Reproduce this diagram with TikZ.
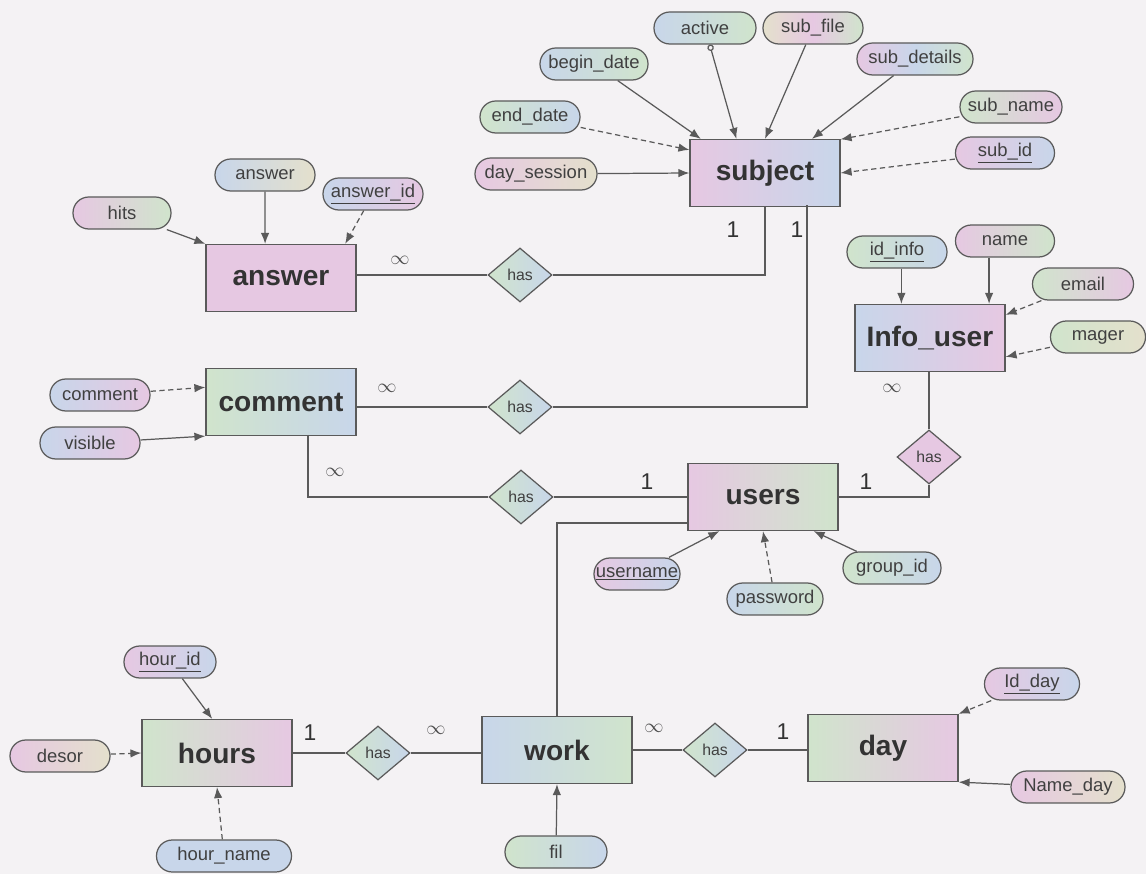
\documentclass[tikz,border=0pt]{standalone}
\usepackage{fontspec}
\setmainfont{Liberation Sans}
\usepackage{xcolor}
\usetikzlibrary{arrows.meta,shapes.geometric}

\definecolor{paper}{HTML}{F4F2F4}
\definecolor{ln}{HTML}{5A5A5A}
\definecolor{pk}{HTML}{E6C8E2}
\definecolor{gn}{HTML}{D0E4CC}
\definecolor{bl}{HTML}{C8D6EA}
\definecolor{yl}{HTML}{E4E0CC}

\begin{document}
\begin{tikzpicture}[x=0.02cm,y=-0.02cm,
    ent/.style={draw=ln,line width=0.7pt,minimum width=3cm,minimum height=1.34cm,left color=pk,middle color=gn,right color=bl,font=\fontsize{16}{18}\selectfont\bfseries,text=black!80},
    attr/.style={draw=ln,line width=0.7pt,rounded corners=9pt,minimum width=0.02cm*#1,minimum height=0.64cm,inner sep=1pt,left color=bl,middle color=pk,right color=gn,font=\fontsize{10.5}{12}\selectfont,text=black!75},
    rel/.style={diamond,draw=ln,line width=0.7pt,minimum width=1.28cm,minimum height=1.08cm,inner sep=0pt,left color=gn,middle color=pk,right color=bl,font=\fontsize{9}{10}\selectfont,text=black!75},
    card/.style={font=\fontsize{13}{14}\selectfont,text=black!80},
    many/.style={font=\fontsize{11}{12}\selectfont,text=black!70},
    con/.style={draw=ln,line width=0.7pt},
    arr/.style={con,-{Latex[length=2.2mm,width=1.7mm]}},
    dsh/.style={dash pattern=on 3pt off 2pt}
]
    \fill[paper] (0,0) rectangle (1146,874);
    \useasboundingbox (0,0) rectangle (1146,874);

    % entities
    \node[ent] (subject) at (765,173) {subject};
    \node[ent,left color=pk,middle color=bl,right color=pk] (answer) at (281,278) {answer};
    \node[ent,left color=gn,middle color=yl,right color=bl] (comment) at (281,402) {comment};
    \node[ent,left color=bl,middle color=gn,right color=pk] (info) at (930,338) {Info\_user};
    \node[ent,left color=pk,middle color=bl,right color=gn] (users) at (763,497) {users};
    \node[ent,left color=gn,middle color=bl,right color=pk] (hours) at (217,753) {hours};
    \node[ent,left color=bl,middle color=pk,right color=gn] (work) at (557,750) {work};
    \node[ent,left color=gn,middle color=yl,right color=pk] (day) at (883,748) {day};

    % relations
    \node[rel] (has1) at (520,275) {has};
    \node[rel] (has2) at (520,407) {has};
    \node[rel] (has3) at (521,497) {has};
    \node[rel,left color=pk,right color=pk] (has4) at (929,457) {has};
    \node[rel] (has5) at (378,753) {has};
    \node[rel] (has6) at (715,750) {has};

    \coordinate (subjB) at (807,205.5);
    \coordinate (commB) at (308,435);
    \coordinate (usersL) at (688,523);

    \draw[con] (answer.east |- has1) -- (has1.west);
    \draw[con] (has1.east) -| (subject.south);
    \draw[con] (comment.east |- has2) -- (has2.west);
    \draw[con] (has2.east) -| (subjB);
    \draw[con] (commB) |- (has3.west);
    \draw[con] (has3.east) -- (users.west);
    \draw[con] (usersL) -| (work.north);
    \draw[con] (users.east) -| (has4.south);
    \draw[con] (has4.north) -- (info.south -| has4);
    \draw[con] (hours.east |- has5) -- (has5.west);
    \draw[con] (has5.east) -- (work.west |- has5);
    \draw[con] (work.east |- has6) -- (has6.west);
    \draw[con] (has6.east) -- (day.west |- has6);

    % cardinalities
    \node[many] (m1) at (400,260) {$\infty$};
    \node[card] (c1) at (733,230) {1};
    \node[card] (c2) at (797,230) {1};
    \node[many] (m2) at (387,388) {$\infty$};
    \node[many] (m3) at (335,472) {$\infty$};
    \node[card] (c3) at (647,482) {1};
    \node[card] (c4) at (866,482) {1};
    \node[many] (m4) at (892,388) {$\infty$};
    \node[card] (c5) at (310,733) {1};
    \node[many] (m5) at (436,730) {$\infty$};
    \node[many] (m6) at (654,728) {$\infty$};
    \node[card] (c6) at (783,732) {1};

    % attributes
    \node[attr=102] (active) at (705,28) {active};
    \node[attr=100,left color=yl,middle color=pk] (subfile) at (813,28) {sub\_file};
    \node[attr=108] (begindate) at (594,64) {begin\_date};
    \node[attr=116,left color=pk,middle color=bl] (subdetails) at (915,59) {sub\_details};
    \node[attr=100,left color=gn,middle color=yl,right color=bl] (enddate) at (530,117) {end\_date};
    \node[attr=102,left color=gn,right color=pk] (subname) at (1011,107) {sub\_name};
    \node[attr=122,left color=pk,middle color=bl,right color=yl] (daysession) at (536,174) {day\_session};
    \node[attr=99,left color=pk,middle color=pk,right color=bl] (subid) at (1005,153) {\underline{sub\_id}};

    \node[attr=100,left color=bl,middle color=gn,right color=yl] (answerA) at (265,175) {answer};
    \node[attr=100,left color=bl,middle color=bl,right color=pk] (answerid) at (373,194) {\underline{answer\_id}};
    \node[attr=98,left color=pk,middle color=pk,right color=gn] (hits) at (122,213) {hits};
    \node[attr=100,left color=bl,middle color=gn,right color=pk] (commentA) at (100,395) {comment};
    \node[attr=100,left color=bl,middle color=pk,right color=pk] (visible) at (90,443) {visible};

    \node[attr=100,left color=gn,middle color=gn,right color=bl] (idinfo) at (897,252) {\underline{id\_info}};
    \node[attr=99,left color=pk,middle color=bl,right color=gn] (name) at (1005,241) {name};
    \node[attr=101,left color=gn,middle color=bl,right color=pk] (email) at (1083,284) {email};
    \node[attr=95,left color=gn,middle color=bl,right color=yl] (mager) at (1098,337) {mager};

    \node[attr=86,left color=pk,middle color=bl,right color=bl] (username) at (637,574) {\underline{username}};
    \node[attr=96,left color=bl,middle color=pk,right color=gn] (password) at (775,599) {password};
    \node[attr=98,left color=gn,middle color=pk,right color=bl] (groupid) at (892,568) {group\_id};

    \node[attr=92,left color=pk,middle color=yl,right color=bl] (hourid) at (170,662) {\underline{hour\_id}};
    \node[attr=100,left color=pk,middle color=bl,right color=yl] (desor) at (60,756) {desor};
    \node[attr=135,left color=bl,middle color=pk,right color=bl] (hourname) at (224,856) {hour\_name};
    \node[attr=102,left color=gn,middle color=pk,right color=bl] (fil) at (556,852) {fil};
    \node[attr=95,left color=pk,middle color=pk,right color=bl] (idday) at (1032,684) {\underline{Id\_day}};
    \node[attr=114,left color=pk,middle color=bl,right color=yl] (nameday) at (1068,787) {Name\_day};

    \draw[arr] (begindate) -- (subject.152);
    \draw[con,{Circle[open,length=1.3mm]}-{Latex[length=2.2mm,width=1.7mm]}] (active) -- (subject.130);
    \draw[arr] (subfile) -- (subject.north);
    \draw[arr] (subdetails) -- (subject.36);
    \draw[arr,dsh] (enddate) -- (subject.163);
    \draw[arr,dsh] (subname) -- (subject.24);
    \draw[arr,dsh] (subid) -- (subject.east);
    \draw[arr] (daysession) -- (subject.west);

    \draw[arr] (hits) -- (answer.north west);
    \draw[arr] (answerA) -- (answer.115);
    \draw[arr,dsh] (answerid) -- (answer.28);
    \draw[arr,dsh] (commentA) -- (comment.169);
    \draw[arr] (visible) -- (comment.south west);

    \draw[arr] (info.130 |- idinfo.south) -- (info.130);
    \draw[arr] (info.30 |- name.south) -- (info.30);
    \draw[arr,dsh] (email) -- (info.17);
    \draw[arr,dsh] (mager) -- (info.-14);

    \draw[arr] (username) -- (users.218);
    \draw[arr,dsh] (password) -- (users.south);
    \draw[arr] (groupid) -- (users.326);

    \draw[arr] (hourid) -- (hours.98);
    \draw[arr,dsh] (desor) -- (hours.west);
    \draw[arr,dsh] (hourname) -- (hours.south);
    \draw[arr] (fil) -- (work.south);
    \draw[arr,dsh] (idday) -- (day.north east);
    \draw[arr] (nameday) -- (day.south east);
\end{tikzpicture}
\end{document}
